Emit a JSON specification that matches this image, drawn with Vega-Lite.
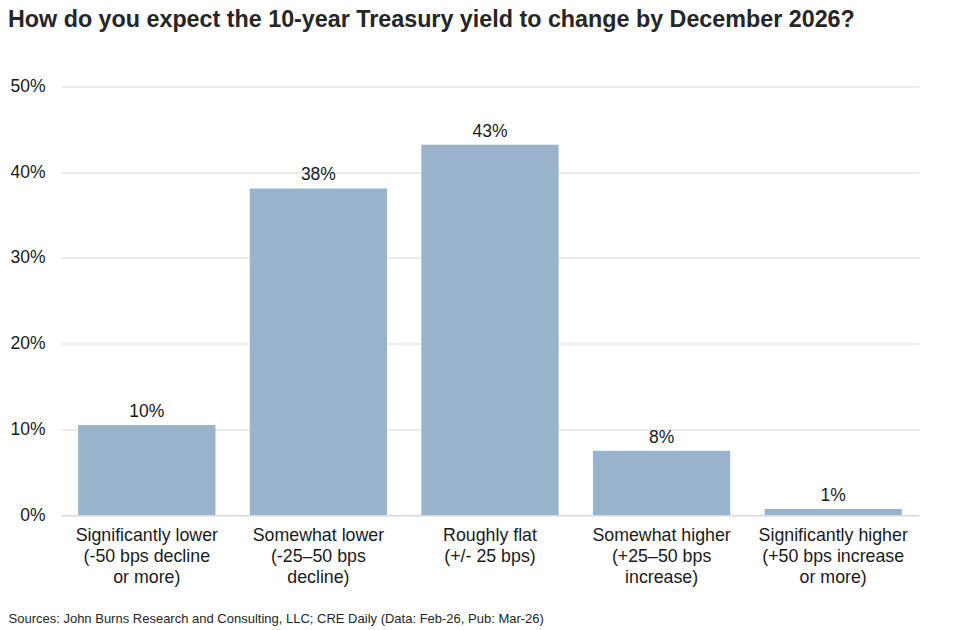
{
  "$schema": "https://vega.github.io/schema/vega-lite/v6.json",
  "autosize": {"type": "none"},
  "width": 858,
  "height": 428.5,
  "padding": {"left": 61, "top": 86.5, "right": 51, "bottom": 115},
  "background": "white",
  "config": {
    "font": "Liberation Sans",
    "view": {"stroke": null}
  },
  "title": {
    "text": "How do you expect the 10-year Treasury yield to change by December 2026?",
    "anchor": "start",
    "frame": "group",
    "dx": -53,
    "offset": 45,
    "fontSize": 23.3,
    "fontWeight": "bold",
    "color": "#262626",
    "font": "Liberation Sans"
  },
  "data": {
    "values": [
      {"category": "Significantly lower|(-50 bps decline|or more)", "share": 0.105, "label": "10%"},
      {"category": "Somewhat lower|(-25–50 bps|decline)", "share": 0.381, "label": "38%"},
      {"category": "Roughly flat|(+/- 25 bps)", "share": 0.432, "label": "43%"},
      {"category": "Somewhat higher|(+25–50 bps|increase)", "share": 0.075, "label": "8%"},
      {"category": "Significantly higher|(+50 bps increase|or more)", "share": 0.007, "label": "1%"}
    ]
  },
  "encoding": {
    "x": {
      "field": "category",
      "type": "nominal",
      "sort": null,
      "scale": {"paddingInner": 0.2, "paddingOuter": 0.1},
      "axis": {
        "title": "Sources: John Burns Research and Consulting, LLC; CRE Daily (Data: Feb-26, Pub: Mar-26)",
        "titleAnchor": "start",
        "titleAlign": "left",
        "titleX": -53,
        "titleY": 103,
        "titleFontSize": 13,
        "titleFontWeight": "normal",
        "titleColor": "#262626",
        "titleBaseline": "middle",
        "labelExpr": "split(datum.label, '|')",
        "labelAngle": 0,
        "labelFontSize": 17.8,
        "labelColor": "#1a1a1a",
        "labelLineHeight": 21,
        "labelPadding": 11,
        "labelLimit": 0,
        "ticks": false,
        "domain": true,
        "domainColor": "#d9d9d9",
        "domainWidth": 1
      }
    },
    "y": {
      "field": "share",
      "type": "quantitative",
      "scale": {"domain": [0, 0.5], "nice": false},
      "axis": {
        "title": null,
        "format": ".0%",
        "values": [0, 0.1, 0.2, 0.3, 0.4, 0.5],
        "labelFontSize": 17.5,
        "labelColor": "#1a1a1a",
        "labelPadding": 16,
        "ticks": false,
        "domain": false,
        "grid": true,
        "gridColor": "#d9d9d9",
        "gridWidth": 1
      }
    }
  },
  "layer": [
    {
      "mark": {"type": "bar", "color": "#98b3cb"}
    },
    {
      "mark": {"type": "text", "baseline": "bottom", "dy": -4, "fontSize": 17.5, "color": "#1a1a1a"},
      "encoding": {"text": {"field": "label"}}
    }
  ]
}
